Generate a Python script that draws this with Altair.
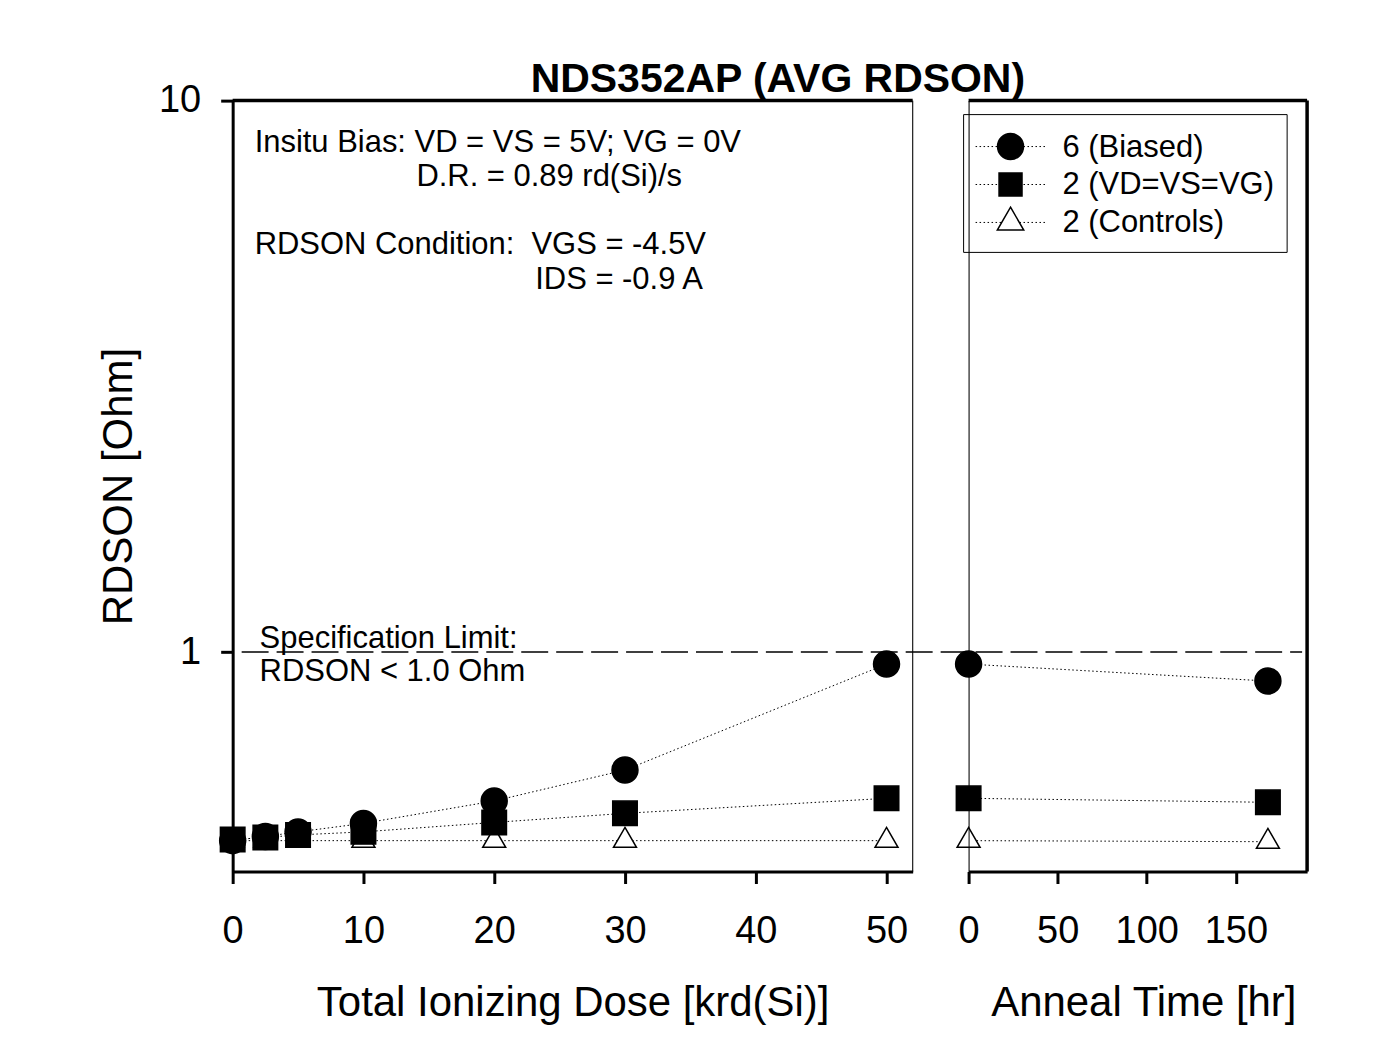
import altair as alt
import pandas as pd

FONT = "Liberation Sans"

# ---------------- data ----------------
series = ["6 (Biased)", "2 (VD=VS=VG)", "2 (Controls)"]

dose = [0, 2.5, 5, 10, 20, 30, 50]
biased_dose = [0.455, 0.463, 0.472, 0.489, 0.537, 0.611, 0.951]
gate_dose = [0.457, 0.461, 0.466, 0.472, 0.491, 0.510, 0.543]
ctrl_dose = [0.455, 0.455, 0.455, 0.455, 0.455, 0.455, 0.455]

anneal = [0, 168]
biased_anneal = [0.951, 0.886]
gate_anneal = [0.543, 0.534]
ctrl_anneal = [0.455, 0.453]

spec_limit = [1.0]

dose_ticks = [0, 10, 20, 30, 40, 50]
anneal_ticks = [0, 50, 100, 150]
y_ticks = [1, 10]


def to_long(xs, cols):
    rows = []
    # controls first so that the filled markers are drawn on top
    for name, ys in reversed(list(zip(series, cols))):
        for x, y in zip(xs, ys):
            rows.append({"x": x, "y": y, "series": name})
    return pd.DataFrame(rows)


dose_df = to_long(dose, [biased_dose, gate_dose, ctrl_dose])
anneal_df = to_long(anneal, [biased_anneal, gate_anneal, ctrl_anneal])

# ---------------- styles ----------------
CW, CH = 1375, 1055
OX, OY = 232, 99
W1, W2, H = 681, 339, 772
TRI = "M0,-1.155L1,0.577L-1,0.577Z"
shapes = ["circle", "square", TRI]
fills = ["black", "black", "white"]
sizes = [676, 529, 700]
TXT = 31

shape_scale = alt.Scale(domain=series, range=shapes)
fill_scale = alt.Scale(domain=series, range=fills)
size_scale = alt.Scale(domain=series, range=sizes)

yscale = alt.Scale(type="log", domain=[0.4, 10], nice=False)

axis_common = dict(
    domainColor="black", domainWidth=3, tickColor="black", tickWidth=3,
    tickSize=12, labelFontSize=38, labelFont=FONT, labelColor="black",
    titleFontSize=42, titleFont=FONT, titleFontWeight="normal",
    titleColor="black", grid=False, labelFlush=False, labelOverlap=False,
)

y_left = alt.Y("y:Q", scale=yscale, axis=alt.Axis(
    values=y_ticks, format="d", title="RDSON [Ohm]", labelPadding=20,
    titlePadding=18, **axis_common))
y_right = alt.Y("y:Q", scale=yscale, axis=alt.Axis(
    labels=False, ticks=False, title=None, domainColor="black",
    domainWidth=1, grid=False, zindex=1))

x_left = alt.X("x:Q", scale=alt.Scale(domain=[0, 52], nice=False, zero=False),
               axis=alt.Axis(values=dose_ticks, title="Total Ionizing Dose [krd(Si)]",
                             labelPadding=29, titlePadding=32, **axis_common))
x_right = alt.X("x:Q", scale=alt.Scale(domain=[0, 190], nice=False, zero=False),
                axis=alt.Axis(values=anneal_ticks, title="Anneal Time [hr]",
                              labelPadding=29, titlePadding=32, titleX=175,
                              **axis_common))


def one():
    return pd.DataFrame({"k": [0]})


def label(text, x, y, size=TXT, weight="normal", align="left", baseline="alphabetic"):
    return alt.Chart(pd.DataFrame({"t": [text]})).mark_text(
        align=align, baseline=baseline, fontSize=size, fontWeight=weight,
        font=FONT, color="black").encode(x=alt.value(x), y=alt.value(y), text="t:N")


def hrule(x0, x1, y, width):
    return alt.Chart(one()).mark_rule(color="black", strokeWidth=width).encode(
        x=alt.value(x0), x2=alt.value(x1), y=alt.value(y))


def vrule(x, y0, y1, width):
    return alt.Chart(one()).mark_rule(color="black", strokeWidth=width).encode(
        x=alt.value(x), y=alt.value(y0), y2=alt.value(y1))


def data_layers(df, xenc, yenc):
    lines = alt.Chart(df).mark_line(color="black", strokeWidth=1, strokeDash=[1.5, 2.5]).encode(
        x=xenc, y=yenc, detail="series:N")
    pts = alt.Chart(df).mark_point(filled=True, stroke="black", strokeWidth=1.5, opacity=1).encode(
        x=xenc, y=yenc,
        shape=alt.Shape("series:N", scale=shape_scale, legend=None),
        fill=alt.Fill("series:N", scale=fill_scale, legend=None),
        size=alt.Size("series:N", scale=size_scale, legend=None),
    )
    return lines, pts


# invisible canvas-sized rect: fixes the page bounds so the left plot sits at (OX, OY)
canvas = alt.Chart(one()).mark_rect(opacity=0).encode(
    x=alt.value(-OX), x2=alt.value(CW - OX), y=alt.value(-OY), y2=alt.value(CH - OY))

# ---------------- left panel ----------------
spec_rule = alt.Chart(pd.DataFrame({"y": spec_limit})).mark_rule(
    color="black", strokeWidth=1.5, strokeDash=[27, 8]).encode(
    y=y_left, x=alt.value(9), x2=alt.value(1071))

l_lines, l_pts = data_layers(dose_df, x_left, y_left)

left = alt.layer(
    canvas,
    spec_rule, l_lines, l_pts,
    hrule(0, W1, 0, 3.5),
    vrule(W1, 0, H, 1),
    label("NDS352AP (AVG RDSON)", 546, -9, size=41, weight="bold", align="center"),
    label("Insitu Bias: VD = VS = 5V; VG = 0V", 22, 51),
    label("D.R. = 0.89 rd(Si)/s", 184, 86),
    label("RDSON Condition:\u00a0 VGS = -4.5V", 22, 154),
    label("IDS = -0.9 A", 303, 189),
    label("Specification Limit:", 27, 548),
    label("RDSON < 1.0 Ohm", 27, 581),
).properties(width=W1, height=H)

# ---------------- right panel ----------------
r_lines, r_pts = data_layers(anneal_df, x_right, y_right)

legend_box = alt.Chart(one()).mark_rect(
    fillOpacity=0, stroke="black", strokeWidth=1).encode(
    x=alt.value(-5), x2=alt.value(319), y=alt.value(14), y2=alt.value(152))

legend_layers = [legend_box]
row_y = [46, 84, 122]
for name, shp, fl, sz, ry in zip(series, shapes, fills, sizes, row_y):
    legend_layers.append(
        alt.Chart(one()).mark_rule(color="black", strokeWidth=1, strokeDash=[1.5, 2.5]).encode(
            x=alt.value(7), x2=alt.value(77), y=alt.value(ry)))
    legend_layers.append(
        alt.Chart(one()).mark_point(shape=shp, size=sz, filled=True, fill=fl,
                                    stroke="black", strokeWidth=1.5, opacity=1).encode(
            x=alt.value(42), y=alt.value(ry)))
    legend_layers.append(label(name, 94, ry + 1, baseline="middle"))

right = alt.layer(
    r_lines, r_pts,
    hrule(0, W2, 0, 3.5),
    vrule(W2, 0, H, 3.5),
    *legend_layers,
).properties(width=W2, height=H)

chart = alt.hconcat(left, right, spacing=56, bounds="flush").resolve_scale(
    x="independent", y="independent"
).properties(
    padding=0,
).configure_view(stroke=None).configure(background="white", font=FONT)

chart.save("out.html", embed_options={"renderer": "svg", "actions": False})
